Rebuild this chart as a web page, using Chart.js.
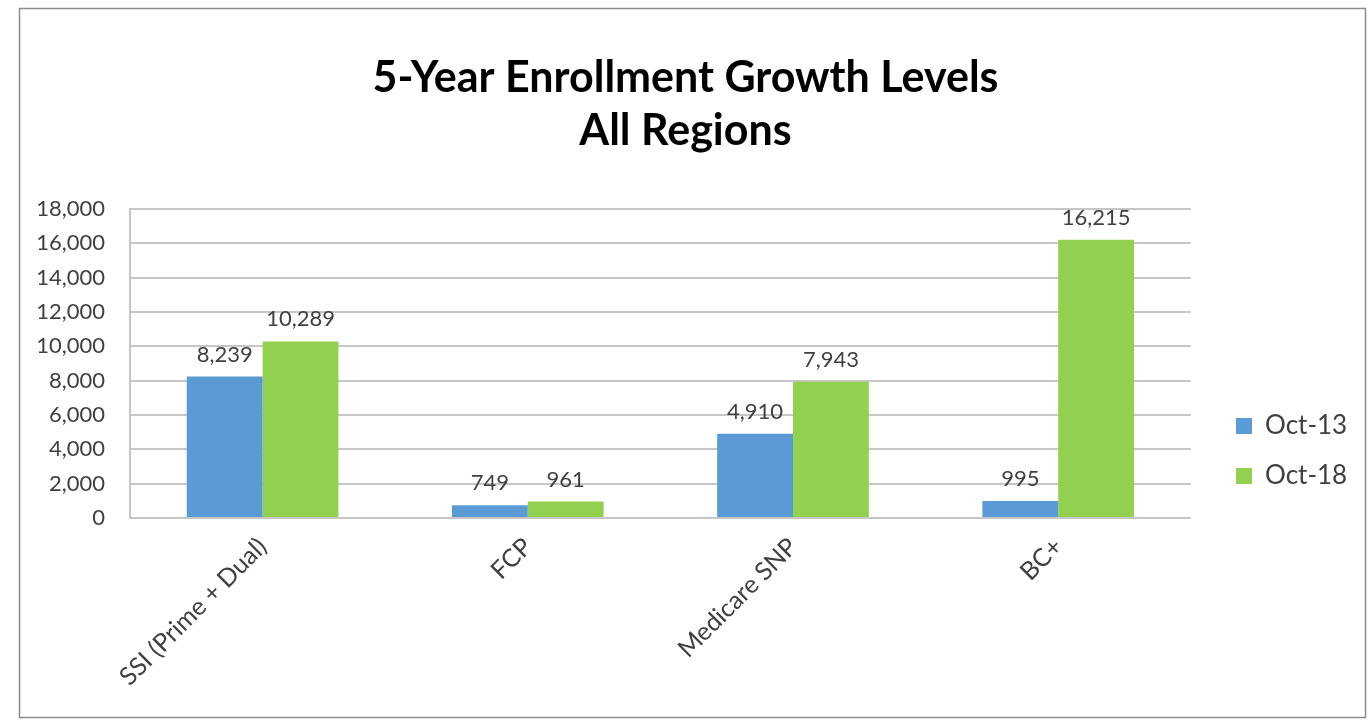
<!DOCTYPE html>
<html>
<head>
<meta charset="utf-8">
<script src="https://cdn.jsdelivr.net/npm/chart.js@4.4.1/dist/chart.umd.min.js"></script>
<style>
  html, body { margin: 0; padding: 0; background: #fff; }
  canvas { display: block; }
</style>
</head>
<body>
<canvas id="enrollChart" width="1371" height="721"></canvas>
<script>
// chart data
const categories = ['SSI (Prime + Dual)', 'FCP', 'Medicare SNP', 'BC+'];
const oct13 = [8239, 749, 4910, 995];
const oct18 = [10289, 961, 7943, 16215];
const seriesNames = ['Oct-13', 'Oct-18'];
const titleLines = ['5-Year Enrollment Growth Levels', 'All Regions'];

const FONT = 'Lato, "Open Sans", sans-serif';
const TEXT = '#404040';
const GRID = '#C6C6C6';
const LEGEND_PAD = 24;

// outer frame around the whole chart
const framePlugin = {
    id: 'frame',
    beforeDraw(chart) {
        const ctx = chart.ctx;
        ctx.save();
        ctx.fillStyle = '#fff';
        ctx.fillRect(0, 0, chart.width, chart.height);
        ctx.strokeStyle = '#8c8c8c';
        ctx.lineWidth = 1.5;
        ctx.strokeRect(19.5, 8.5, 1346, 709);
        ctx.restore();
    }
};

// value labels above bars
const valueLabels = {
    id: 'valueLabels',
    afterDatasetsDraw(chart) {
        const ctx = chart.ctx;
        ctx.save();
        ctx.font = '22px ' + FONT;
        ctx.fillStyle = TEXT;
        ctx.textAlign = 'center';
        ctx.textBaseline = 'alphabetic';
        chart.data.datasets.forEach((ds, i) => {
            chart.getDatasetMeta(i).data.forEach((bar, j) => {
                ctx.fillText(ds.data[j].toLocaleString('en-US'), bar.x, bar.y - 15);
            });
        });
        ctx.restore();
    }
};

// put legend and title where the original has them
const placeBoxes = {
    id: 'placeBoxes',
    afterLayout(chart) {
        const lg = chart.legend;
        const w = lg.width;
        lg.left = 1236 - LEGEND_PAD;
        lg.right = lg.left + w;
        lg.top = 302;
        lg.bottom = 600;
        // centre the title over the whole frame
        const t = chart.titleBlock;
        t.left = 0;
        t.right = chart.width;
        t.width = chart.width;
    }
};

const ctx = document.getElementById('enrollChart').getContext('2d');
new Chart(ctx, {
    type: 'bar',
    data: {
        labels: categories,
        datasets: [
            { label: seriesNames[0], data: oct13, backgroundColor: '#5B9BD5' },
            { label: seriesNames[1], data: oct18, backgroundColor: '#92D050' }
        ]
    },
    options: {
        responsive: false,
        animation: false,
        layout: { padding: { left: 0, right: 35, top: 0, bottom: 0 } },
        datasets: {
            bar: { categoryPercentage: 0.572, barPercentage: 1.0 }
        },
        scales: {
            x: {
                grid: { display: false },
                border: { display: false },
                ticks: {
                    color: TEXT,
                    font: { family: FONT, size: 25 },
                    minRotation: 45,
                    maxRotation: 45,
                    padding: 6
                },
                afterFit: (scale) => { scale.height = 203; }
            },
            y: {
                min: 0,
                max: 18000,
                grid: { color: GRID, lineWidth: 2, drawTicks: false },
                border: { display: true, color: GRID, width: 2 },
                ticks: {
                    stepSize: 2000,
                    color: TEXT,
                    padding: 25,
                    font: { family: FONT, size: 22 },
                    callback: (v) => v.toLocaleString('en-US')
                },
                afterFit: (scale) => { scale.width = 130; }
            }
        },
        plugins: {
            title: {
                display: true,
                text: titleLines,
                color: '#000',
                font: { family: FONT, size: 43, weight: 'bold', lineHeight: 1.233 },
                padding: { top: 52, bottom: 51 }
            },
            legend: {
                position: 'right',
                labels: {
                    color: TEXT,
                    font: { family: FONT, size: 26 },
                    boxWidth: 16,
                    boxHeight: 16,
                    padding: LEGEND_PAD
                }
            },
            tooltip: { enabled: false }
        }
    },
    plugins: [framePlugin, valueLabels, placeBoxes]
});
</script>
</body>
</html>
